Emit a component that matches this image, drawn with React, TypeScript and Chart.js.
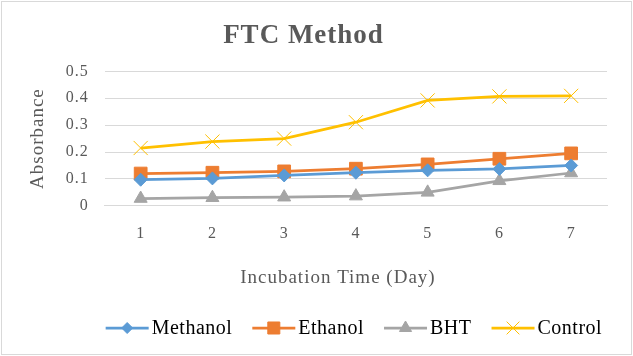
import React, { useEffect, useRef } from 'react';
import { Chart, registerables } from 'chart.js';
import { drawPoint } from 'chart.js/helpers';

Chart.register(...registerables);

const days = ['1', '2', '3', '4', '5', '6', '7'];
const methanol = [0.097, 0.102, 0.113, 0.123, 0.132, 0.137, 0.150];
const ethanol = [0.120, 0.123, 0.128, 0.138, 0.154, 0.175, 0.195];
const bht = [0.027, 0.030, 0.032, 0.036, 0.050, 0.093, 0.122];
const control = [0.215, 0.239, 0.250, 0.311, 0.392, 0.407, 0.409];
const yTickLabels = ['0', '0.1', '0.2', '0.3', '0.4', '0.5'];
const xAxisTitle = 'Incubation Time (Day)';

const SERIF = "'Liberation Serif', 'Times New Roman', serif";
const TEXT = '#595959';
const GRID = '#d9d9d9';

const spacingPlugin = {
  id: 'spacing',
  beforeUpdate(chart: any) {
    chart.ctx.letterSpacing = '1px';
  },
  beforeDraw(chart: any) {
    const ctx = chart.ctx;
    ctx.letterSpacing = '1px';
    ctx.save();
    ctx.fillStyle = '#ffffff';
    ctx.fillRect(0, 0, chart.width, chart.height);
    ctx.strokeStyle = GRID;
    ctx.lineWidth = 1;
    ctx.strokeRect(1.5, 1.5, chart.width - 3, chart.height - 3);
    ctx.restore();
  },
};

const xTitlePlugin = {
  id: 'xTitle',
  afterDraw(chart: any) {
    const ctx = chart.ctx;
    ctx.save();
    ctx.font = `19px ${SERIF}`;
    ctx.letterSpacing = '1px';
    ctx.fillStyle = TEXT;
    ctx.textAlign = 'center';
    ctx.textBaseline = 'middle';
    const cx = (chart.chartArea.left + chart.chartArea.right) / 2 - 18;
    ctx.fillText(xAxisTitle, cx, chart.height - 78);
    ctx.restore();
  },
};

const legendPlugin = {
  id: 'customLegend',
  afterDraw(chart: any) {
    const ctx = chart.ctx;
    ctx.save();
    ctx.font = `20px ${SERIF}`;
    ctx.letterSpacing = '0.5px';
    const lineLen = 43;
    const gapText = 3;
    const gapItem = 20;
    const items = chart.data.datasets.map((ds: any) => ({ ds, w: ctx.measureText(ds.label).width }));
    const total =
      items.reduce((s: number, it: any) => s + lineLen + gapText + it.w, 0) + gapItem * (items.length - 1);
    const cx = (chart.chartArea.left + chart.chartArea.right) / 2 - 2;
    let x = cx - total / 2;
    const y = chart.height - 28;
    items.forEach((it: any) => {
      const ds = it.ds;
      ctx.strokeStyle = ds.borderColor;
      ctx.lineWidth = 2.75;
      ctx.beginPath();
      ctx.moveTo(x, y);
      ctx.lineTo(x + lineLen, y);
      ctx.stroke();
      ctx.fillStyle = ds.pointBackgroundColor;
      ctx.strokeStyle = ds.pointBorderColor;
      ctx.lineWidth = ds.pointBorderWidth;
      drawPoint(
        ctx,
        { pointStyle: ds.pointStyle, rotation: 0, radius: ds.legendRadius, borderWidth: ds.pointBorderWidth },
        x + lineLen / 2,
        y
      );
      ctx.fillStyle = '#000000';
      ctx.textAlign = 'left';
      ctx.textBaseline = 'middle';
      ctx.fillText(ds.label, x + lineLen + gapText, y + 1);
      x += lineLen + gapText + it.w + gapItem;
    });
    ctx.restore();
  },
};

function makeSet(label: string, data: number[], color: string, style: string, radius: number, legendRadius: number, bw: number) {
  return {
    label,
    data,
    borderColor: color,
    backgroundColor: color,
    borderWidth: 2.75,
    pointStyle: style,
    pointRadius: radius,
    pointHoverRadius: radius,
    pointBackgroundColor: color,
    pointBorderColor: color,
    pointBorderWidth: bw,
    legendRadius,
    tension: 0,
    fill: false,
  };
}

export default function App() {
  const ref = useRef<HTMLCanvasElement | null>(null);
  useEffect(() => {
    document.body.style.margin = '0';
    if (!ref.current) return;
    const chart = new Chart(ref.current, {
      type: 'line',
      data: {
        labels: days,
        datasets: [
          makeSet('Methanol', methanol, '#5B9BD5', 'rectRot', 6.5, 5.5, 1),
          makeSet('Ethanol', ethanol, '#ED7D31', 'rect', 9, 8.5, 1),
          makeSet('BHT', bht, '#A5A5A5', 'triangle', 7.5, 7, 1),
          makeSet('Control', control, '#FFC000', 'crossRot', 10, 9, 1),
        ] as any,
      },
      options: {
        responsive: false,
        animation: false,
        devicePixelRatio: 1,
        layout: { padding: { left: 0, right: 26, top: 0, bottom: 95 } },
        plugins: {
          legend: { display: false },
          tooltip: { enabled: false },
          title: {
            display: true,
            text: 'FTC Method',
            color: TEXT,
            font: { family: SERIF, size: 27, weight: 'bold' },
            padding: { top: 20, bottom: 19 },
          },
        },
        scales: {
          x: {
            offset: true,
            grid: { display: false, drawTicks: false },
            border: { display: true, color: GRID, width: 1 },
            ticks: { color: TEXT, font: { family: SERIF, size: 16 }, padding: 18, maxRotation: 0 },
            title: { display: false },
          },
          y: {
            min: 0,
            max: 0.5,
            grid: { color: GRID, drawTicks: false, lineWidth: 1 },
            border: { display: false },
            ticks: {
              stepSize: 0.1,
              autoSkip: false,
              color: TEXT,
              font: { family: SERIF, size: 16 },
              padding: 16,
              callback: (_v: any, i: number) => yTickLabels[i],
            },
            title: {
              display: true,
              text: 'Absorbance',
              color: TEXT,
              font: { family: SERIF, size: 19 },
              padding: { top: 27, bottom: 0 },
            },
          },
        },
      } as any,
      plugins: [spacingPlugin, xTitlePlugin, legendPlugin],
    });
    return () => chart.destroy();
  }, []);
  return (
    <div style={{ width: 633, height: 356 }}>
      <canvas ref={ref} width={633} height={356} style={{ display: 'block' }} />
    </div>
  );
}
